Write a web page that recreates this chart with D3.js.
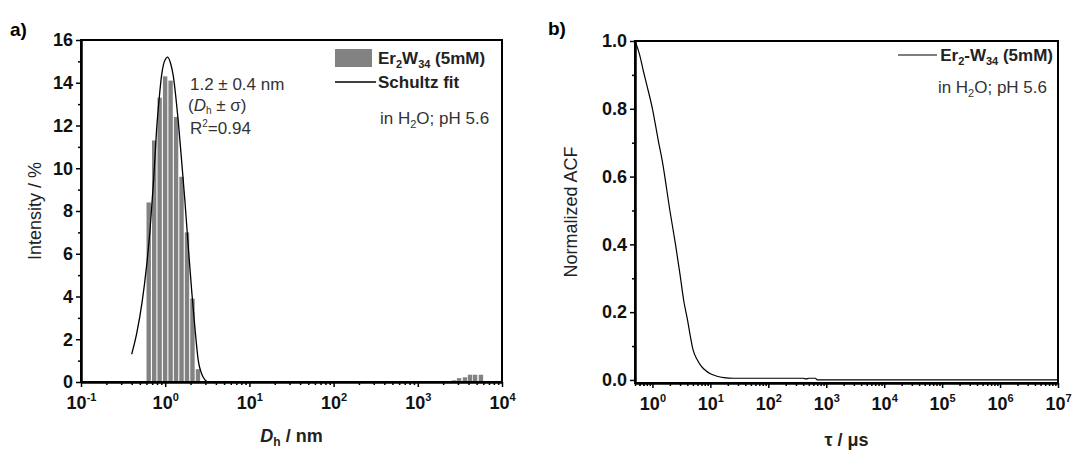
<!DOCTYPE html>
<meta charset="utf-8">
<script src="https://d3js.org/d3.v7.min.js"></script>
<style>
  body { margin: 0; background: #fff; }
  text { font-family: "Liberation Sans", Arial, sans-serif; }
</style>
<div id="chart"></div>
<script>
// ---- data ----
// panel a: DLS size distribution (bars) and Schultz fit
var sizeNm    = [0.637, 0.74, 0.859, 0.998, 1.159, 1.346, 1.563, 1.815, 2.108, 2.449,
                 2690, 3090, 3630, 4170, 4790, 5620];
var intensity = [8.4, 11.3, 13.3, 14.3, 14.1, 12.4, 9.6, 7.0, 3.9, 0.6,
                 0.08, 0.18, 0.22, 0.34, 0.34, 0.34];
var fitNm  = [0.40, 0.46, 0.53, 0.60, 0.66, 0.73, 0.79, 0.85, 0.91, 0.98, 1.07, 1.16,
              1.25, 1.34, 1.43, 1.57, 1.72, 1.89, 2.07, 2.27, 2.47, 2.70, 2.97, 3.2];
var fitInt = [1.3, 2.3, 3.7, 5.4, 7.1, 9.5, 11.8, 13.3, 14.4, 15.0, 15.2, 14.9,
              14.3, 13.3, 12.2, 10.3, 8.4, 6.2, 4.2, 2.4, 1.0, 0.4, 0.1, 0.0];
// panel b: normalized autocorrelation function
var tauUs = [0.5, 0.6, 0.7, 0.8, 1.0, 1.25, 1.5, 2.0, 2.5, 3.0, 3.5, 4.0, 4.5, 5.0,
             6.0, 7.0, 8.0, 10, 13, 17, 25, 100, 400, 450, 500, 650, 700, 1e4, 1e7];
var acf   = [1.0, 0.96, 0.91, 0.87, 0.80, 0.71, 0.64, 0.50, 0.40, 0.31, 0.23, 0.18, 0.13, 0.09,
             0.058, 0.04, 0.03, 0.018, 0.011, 0.007, 0.005, 0.005, 0.005, 0.003, 0.005, 0.005, 0.0, 0.0, 0.0];
// ticks
var aXTicks = [1e-1, 1, 10, 100, 1e3, 1e4];
var aYTicks = [0, 2, 4, 6, 8, 10, 12, 14, 16];
var bXTicks = [1, 10, 100, 1e3, 1e4, 1e5, 1e6, 1e7];
var bYTicks = [0, 0.2, 0.4, 0.6, 0.8, 1.0];

var W = 1072, H = 450;
var svg = d3.select("#chart").append("svg")
    .attr("width", W).attr("height", H);

var tickFont = 18;

function minorLog(lo, hi) {
  var out = [];
  for (var e = Math.floor(Math.log10(lo)); e < Math.ceil(Math.log10(hi)); e++) {
    for (var k = 2; k <= 9; k++) {
      var v = k * Math.pow(10, e);
      if (v >= lo && v <= hi) out.push(v);
    }
  }
  if (lo < 1 && lo >= 0.5) { // partial decade below 1
    [0.5, 0.6, 0.7, 0.8, 0.9].forEach(function(v){ if (v >= lo && out.indexOf(v) < 0) out.push(v); });
  }
  return out;
}

function powerLabels(g) {
  g.selectAll(".tick text").each(function(d) {
    var t = d3.select(this).text(null)
      .attr("font-size", tickFont).attr("font-weight", "bold").attr("fill", "#111").attr("dy", null).attr("y", 27);
    t.append("tspan").text("10");
    t.append("tspan").text(Math.round(Math.log10(d)))
      .attr("font-size", 11).attr("dy", -8);
  });
}

function styleAxis(g) {
  g.select(".domain").attr("stroke-width", 2);
  g.selectAll(".tick line").attr("stroke-width", 1.5);
}

// ---------------- panel a ----------------
var a = {l: 81, r: 502, t: 40, b: 382};
var xa = d3.scaleLog().domain([0.1, 1e4]).range([a.l, a.r]);
var ya = d3.scaleLinear().domain([0, 16]).range([a.b, a.t]);
var binLog = 0.064;

svg.append("g").selectAll("rect").data(sizeNm).enter().append("rect")
  .attr("x", function(d) { return xa(d * Math.pow(10, -binLog / 2)) + 0.5; })
  .attr("width", function(d) { return xa(d * Math.pow(10, binLog / 2)) - xa(d * Math.pow(10, -binLog / 2)) - 1; })
  .attr("y", function(d, i) { return ya(intensity[i]); })
  .attr("height", function(d, i) { return ya(0) - ya(intensity[i]); })
  .attr("fill", "#828282");

svg.append("path")
  .datum(fitNm.map(function(d, i) { return [d, fitInt[i]]; }))
  .attr("fill", "none").attr("stroke", "#000").attr("stroke-width", 1.3)
  .attr("d", d3.line().curve(d3.curveMonotoneX)
    .x(function(d) { return xa(d[0]); })
    .y(function(d) { return ya(d[1]); }));

svg.append("rect").attr("x", a.l).attr("y", a.t).attr("width", a.r - a.l).attr("height", a.b - a.t)
  .attr("fill", "none").attr("stroke", "#000").attr("stroke-width", 2);

var gax = svg.append("g").attr("transform", "translate(0," + a.b + ")")
  .call(d3.axisBottom(xa).tickValues(aXTicks).tickSize(5).tickSizeOuter(0));
powerLabels(gax); styleAxis(gax);
svg.append("g").attr("transform", "translate(0," + a.b + ")")
  .call(d3.axisBottom(xa).tickValues(minorLog(0.1, 1e4)).tickSize(3).tickFormat("").tickSizeOuter(0))
  .call(styleAxis);

var gay = svg.append("g").attr("transform", "translate(" + a.l + ",0)")
  .call(d3.axisLeft(ya).tickValues(aYTicks).tickSize(5).tickSizeOuter(0));
gay.selectAll(".tick text").attr("font-size", tickFont).attr("font-weight", "bold").attr("fill", "#111").attr("x", -8);
styleAxis(gay);
svg.append("g").attr("transform", "translate(" + a.l + ",0)")
  .call(d3.axisLeft(ya).tickValues(d3.range(1, 16, 2)).tickSize(3).tickFormat("").tickSizeOuter(0))
  .call(styleAxis);

// labels a
svg.append("text").attr("x", 10).attr("y", 36).attr("font-size", 19).attr("font-weight", "bold").text("a)");
svg.append("text").attr("transform", "translate(41," + ((a.t + a.b) / 2) + ") rotate(-90)")
  .attr("text-anchor", "middle").attr("font-size", 18).attr("fill", "#222").text("Intensity / %");
var xta = svg.append("text").attr("x", (a.l + a.r) / 2).attr("y", 442)
  .attr("text-anchor", "middle").attr("font-size", 18).attr("font-weight", "bold").attr("fill", "#222");
xta.append("tspan").attr("font-style", "italic").text("D");
xta.append("tspan").attr("font-size", 12).attr("dy", 4).text("h");
xta.append("tspan").attr("dy", -4).text(" / nm");

// annotation
var ann = svg.append("g").attr("fill", "#333").attr("font-size", 17);
ann.append("text").attr("x", 190).attr("y", 90).text("1.2 \u00b1 0.4 nm");
var t2 = ann.append("text").attr("x", 188).attr("y", 111);
t2.append("tspan").text("(");
t2.append("tspan").attr("font-style", "italic").text("D");
t2.append("tspan").attr("font-size", 10).attr("dy", 3).text("h");
t2.append("tspan").attr("dy", -3).text(" \u00b1 \u03c3)");
var t3 = ann.append("text").attr("x", 190).attr("y", 134);
t3.append("tspan").text("R");
t3.append("tspan").attr("font-size", 10).attr("dy", -7).text("2");
t3.append("tspan").attr("dy", 7).text("=0.94");

// legend a
svg.append("rect").attr("x", 335).attr("y", 49).attr("width", 37).attr("height", 18).attr("fill", "#828282");
svg.append("line").attr("x1", 335).attr("x2", 376).attr("y1", 82).attr("y2", 82).attr("stroke", "#000").attr("stroke-width", 1.3);
var la = svg.append("text").attr("x", 378).attr("y", 64).attr("font-size", 17).attr("font-weight", "bold").attr("fill", "#222");
la.append("tspan").text("Er");
la.append("tspan").attr("font-size", 11).attr("dy", 4).text("2");
la.append("tspan").attr("dy", -4).text("W");
la.append("tspan").attr("font-size", 11).attr("dy", 4).text("34");
la.append("tspan").attr("dy", -4).text(" (5mM)");
svg.append("text").attr("x", 378).attr("y", 88).attr("font-size", 17).attr("font-weight", "bold").attr("fill", "#222").text("Schultz fit");
var lb = svg.append("text").attr("x", 380).attr("y", 124).attr("font-size", 17).attr("fill", "#333");
lb.append("tspan").text("in H");
lb.append("tspan").attr("font-size", 11).attr("dy", 4).text("2");
lb.append("tspan").attr("dy", -4).text("O; pH 5.6");

// ---------------- panel b ----------------
var b = {l: 635, r: 1058, t: 41, b: 383};
var xb = d3.scaleLog().domain([0.5, 1e7]).range([b.l, b.r]);
var yb = d3.scaleLinear().domain([-0.009, 1.0]).range([b.b, b.t]);

svg.append("path")
  .datum(tauUs.map(function(d, i) { return [d, acf[i]]; }))
  .attr("fill", "none").attr("stroke", "#000").attr("stroke-width", 1.2)
  .attr("d", d3.line().curve(d3.curveMonotoneX)
    .x(function(d) { return xb(d[0]); })
    .y(function(d) { return yb(d[1]); }));

svg.append("rect").attr("x", b.l).attr("y", b.t).attr("width", b.r - b.l).attr("height", b.b - b.t)
  .attr("fill", "none").attr("stroke", "#000").attr("stroke-width", 2);

var gbx = svg.append("g").attr("transform", "translate(0," + b.b + ")")
  .call(d3.axisBottom(xb).tickValues(bXTicks).tickSize(5).tickSizeOuter(0));
powerLabels(gbx); styleAxis(gbx);
svg.append("g").attr("transform", "translate(0," + b.b + ")")
  .call(d3.axisBottom(xb).tickValues(minorLog(0.5, 1e7)).tickSize(3).tickFormat("").tickSizeOuter(0))
  .call(styleAxis);

var gby = svg.append("g").attr("transform", "translate(" + b.l + ",0)")
  .call(d3.axisLeft(yb).tickValues(bYTicks).tickFormat(d3.format(".1f")).tickSize(5).tickSizeOuter(0));
gby.selectAll(".tick text").attr("font-size", tickFont).attr("font-weight", "bold").attr("fill", "#111").attr("x", -8);
styleAxis(gby);
svg.append("g").attr("transform", "translate(" + b.l + ",0)")
  .call(d3.axisLeft(yb).tickValues([0.1, 0.3, 0.5, 0.7, 0.9]).tickSize(3).tickFormat("").tickSizeOuter(0))
  .call(styleAxis);

svg.append("text").attr("x", 548).attr("y", 35).attr("font-size", 19).attr("font-weight", "bold").text("b)");
svg.append("text").attr("transform", "translate(577," + ((b.t + b.b) / 2) + ") rotate(-90)")
  .attr("text-anchor", "middle").attr("font-size", 18).attr("fill", "#222").text("Normalized ACF");
svg.append("text").attr("x", (b.l + b.r) / 2).attr("y", 446).attr("text-anchor", "middle")
  .attr("font-size", 18).attr("font-weight", "bold").attr("fill", "#222").text("\u03c4 / \u03bcs");

// legend b
svg.append("line").attr("x1", 898).attr("x2", 937).attr("y1", 55).attr("y2", 55).attr("stroke", "#000").attr("stroke-width", 1.2);
var lc = svg.append("text").attr("x", 1053).attr("y", 61).attr("text-anchor", "end").attr("font-size", 17).attr("font-weight", "bold").attr("fill", "#222");
lc.append("tspan").text("Er");
lc.append("tspan").attr("font-size", 11).attr("dy", 4).text("2");
lc.append("tspan").attr("dy", -4).text("-W");
lc.append("tspan").attr("font-size", 11).attr("dy", 4).text("34");
lc.append("tspan").attr("dy", -4).text(" (5mM)");
var ld = svg.append("text").attr("x", 1047).attr("y", 93).attr("text-anchor", "end").attr("font-size", 17).attr("fill", "#333");
ld.append("tspan").text("in H");
ld.append("tspan").attr("font-size", 11).attr("dy", 4).text("2");
ld.append("tspan").attr("dy", -4).text("O; pH 5.6");
</script>
